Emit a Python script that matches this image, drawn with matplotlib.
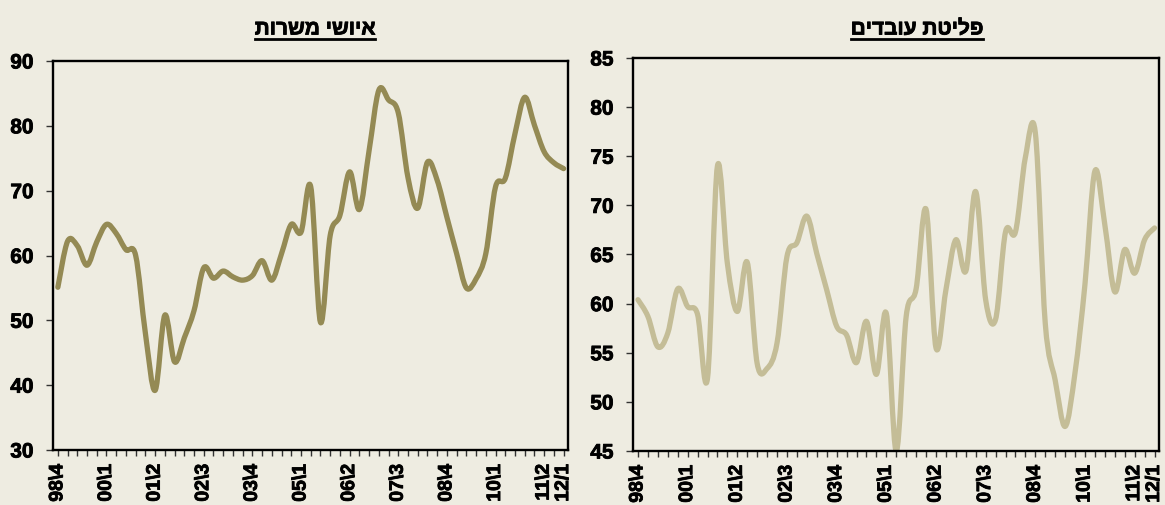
import numpy as np
import matplotlib
matplotlib.use("Agg")
import matplotlib.pyplot as plt
from matplotlib.path import Path
from matplotlib.patches import PathPatch
from matplotlib.lines import Line2D
import matplotlib.patheffects as pe

plt.rcParams['font.family'] = ['Liberation Sans', 'DejaVu Sans']
plt.rcParams['font.weight'] = 'bold'

# quarterly series, 98\4 onwards
vacancies = [55.1, 62.2, 61.5, 58.5, 62.1, 64.8, 63.4, 60.9, 60.0, 48.0,
             39.2, 50.8, 43.6, 47.3, 51.5, 58.1, 56.5, 57.6, 56.7, 56.2,
             56.9, 59.2, 56.2, 60.3, 64.8, 63.6, 70.6, 49.7, 63.1, 66.2,
             72.9, 67.1, 76.2, 85.5, 84.0, 82.0, 72.0, 67.3, 74.4, 71.6,
             65.9, 60.3, 55.0, 56.4, 60.3, 70.6, 71.9, 78.8, 84.4, 80.1,
             76.0, 74.3, 73.4]
dismissals = [60.4, 58.7, 55.6, 57.0, 61.5, 59.7, 58.9, 52.4, 74.0, 64.1,
              59.2, 64.2, 53.9, 53.4, 56.0, 64.8, 66.2, 68.9, 65.1, 61.4,
              57.7, 56.8, 54.0, 58.2, 52.8, 59.0, 45.0, 58.7, 61.5, 69.6,
              55.5, 61.4, 66.5, 63.3, 71.4, 60.4, 58.4, 67.3, 67.3, 74.9,
              77.4, 58.0, 52.2, 47.5, 53.0, 62.0, 73.5, 68.0, 61.2, 65.5,
              63.1, 66.5, 67.7]
tick_pos = [0, 5, 10, 15, 20, 25, 30, 35, 40, 45, 50, 52]
tick_labels = ['98\\4', '00\\1', '01\\2', '02\\3', '03\\4', '05\\1',
               '06\\2', '07\\3', '08\\4', '10\\1', '11\\2', '12/1']

title_left = 'איושי משרות'
title_right = 'פליטת עובדים'

BG = '#EEECE1'
heavy = [pe.withStroke(linewidth=0.6, foreground='black')]


def smooth_path(x, y):
    # excel style smoothed line (catmull-rom as bezier)
    pts = np.column_stack([x, y]).astype(float)
    n = len(pts)
    verts = [pts[0]]
    codes = [Path.MOVETO]
    for i in range(n - 1):
        p0 = pts[max(i - 1, 0)]
        p1 = pts[i]
        p2 = pts[i + 1]
        p3 = pts[min(i + 2, n - 1)]
        verts += [p1 + (p2 - p0) / 6, p2 - (p3 - p1) / 6, p2]
        codes += [Path.CURVE4] * 3
    return Path(verts, codes)


def draw_panel(ax, values, color, ylim, ystep):
    x = np.arange(len(values))
    ax.set_facecolor(BG)
    ax.add_patch(PathPatch(smooth_path(x, values), fill=False, edgecolor=color,
                           lw=3.8, capstyle='round', joinstyle='round'))
    ax.set_xlim(-0.5, len(values) - 0.55)
    ax.set_ylim(*ylim)
    ax.set_yticks(np.arange(ylim[0], ylim[1] + 1, ystep))
    ax.set_xticks(x, minor=True)
    ax.set_xticks(tick_pos)
    ax.set_xticklabels(tick_labels, rotation=90, fontsize=14, fontweight='bold')
    for lab in ax.get_xticklabels():
        lab.set_path_effects(heavy)
    for lab in ax.get_yticklabels():
        lab.set_fontsize(15)
        lab.set_fontweight('bold')
        lab.set_path_effects(heavy)
    for s in ax.spines.values():
        s.set_linewidth(1.7)
        s.set_color('black')
    ax.tick_params(axis='y', direction='out', length=5, width=1, color='#333333', pad=9)
    ax.tick_params(axis='x', which='both', direction='out', length=4, width=1,
                   color='#333333', pad=6)


fig = plt.figure(figsize=(11.65, 5.05), dpi=100, facecolor=BG)
ax1 = fig.add_axes([53 / 1165, 55 / 505, 515 / 1165, 389 / 505])
ax2 = fig.add_axes([633 / 1165, 54 / 505, 526 / 1165, 393 / 505])

draw_panel(ax1, vacancies, '#948A54', (30, 90), 10)
draw_panel(ax2, dismissals, '#C4BD97', (45, 85), 5)

# hebrew titles: matplotlib has no bidi, so give the glyphs in visual order
t1 = fig.text(315 / 1165, 1 - 29 / 505, title_left[::-1], ha='center', va='center',
              fontsize=15, fontweight='bold', path_effects=heavy)
t2 = fig.text(917 / 1165, 1 - 29 / 505, title_right[::-1], ha='center', va='center',
              fontsize=15, fontweight='bold', path_effects=heavy)

fig.canvas.draw()
inv = fig.transFigure.inverted()
for t in (t1, t2):
    bb = t.get_window_extent()
    (x0, y0), (x1, _) = inv.transform([[bb.x0, bb.y0], [bb.x1, bb.y1]])
    fig.add_artist(Line2D([x0, x1], [y0, y0], color='black', lw=2))

fig.savefig('out.png', dpi=100, facecolor=BG)
